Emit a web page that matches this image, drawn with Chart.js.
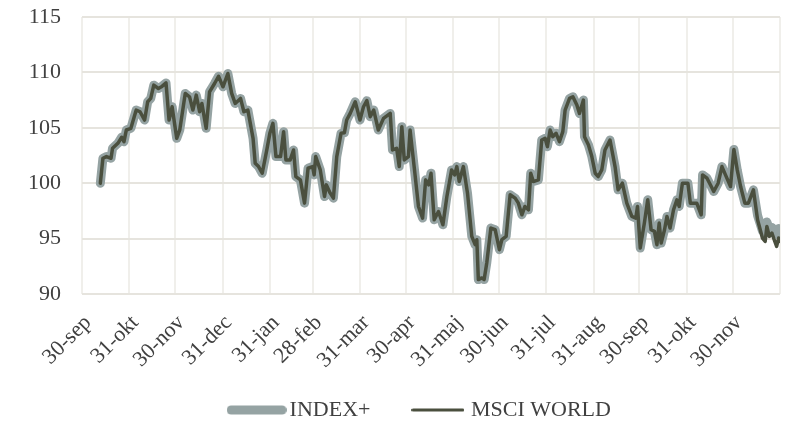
<!DOCTYPE html>
<html>
<head>
<meta charset="utf-8">
<script src="https://cdn.jsdelivr.net/npm/chart.js@4"></script>
<style>
  body { margin: 0; background: #fff; }
  #wrap { width: 790px; height: 422px; }
</style>
</head>
<body>
<div id="wrap"><canvas id="indexChart"></canvas></div>
<script>
// day offsets from 30-sep (x) and index values
const days = [12,13.7,16,19,20,23.5,26,27.5,29,32,35.5,38,41,43,45,47,50,52,55,57,59,62,64,67.6,70.4,72.6,74.8,77,78.5,81.3,83.5,86.8,89.4,92.3,95.5,98,100.3,103.8,106,108.6,112,113.4,115.6,118,121,123,125,127,130,132,133.5,136.3,138.5,140,143,145.7,148,151,152,153,156,158.8,160,162.5,164.6,166.8,169.6,171.8,173.3,175.6,178.9,182,184.3,186.5,188.7,191,194,197.4,201.8,203.3,206,207.7,209.4,211,213.7,214.8,217.7,220.3,223,225,227,228.5,230.6,233.4,236.3,238.9,242,244,245.4,247,249.7,252.4,255.2,257.4,258.5,259.5,261.8,263.3,265,267.7,270.5,273.3,274.9,277.7,280.3,283.6,285.7,288,290,292.3,293.8,295.5,298.8,301,303.2,304.7,306.5,308.2,310.4,312.6,314.8,316.3,319.2,321.4,324,325.7,328.3,329,331.6,333.8,336,338,340.3,342.4,345.7,349,351,353.8,356.7,360,362.6,363.7,365.5,368.2,370.4,372.6,374.8,376.4,377.9,379.2,381.4,383,385,387.3,389.5,391,393.1,396.7,398.3,402.5,405.4,406.3,409.2,412,413.6,416.5,419,421.3,424.6,426.8,429,431.2,434,436.3,439.6,442.3,445.5,447.3,448.4,450,451.7,453.2,454.8,456.1,457];

const msciWorld = [100.0,102.25,102.4,102.25,103.15,103.6,104.15,103.75,104.8,104.95,106.6,106.45,105.7,107.35,107.65,108.85,108.55,108.7,109.05,105.7,106.9,104.05,104.8,108.1,107.8,106.6,107.95,106.45,107.2,104.95,108.25,109.0,109.65,108.7,109.9,108.1,107.2,107.65,106.45,106.6,104.05,101.8,101.5,100.9,103.0,104.5,105.4,102.4,102.4,104.65,102.1,102.1,103.0,100.6,100.3,98.2,101.35,101.5,100.75,102.4,101.2,98.8,99.85,99.1,98.65,102.4,104.5,104.55,105.7,106.3,107.35,105.7,106.9,107.45,106.0,106.6,104.8,105.85,106.3,103.0,103.15,101.5,105.1,102.1,102.4,104.8,101.2,97.9,96.85,100.3,99.85,100.9,96.7,97.45,96.25,98.8,101.2,100.75,101.5,100.15,101.5,99.1,95.2,94.45,94.9,91.3,91.45,91.3,92.8,95.95,95.8,94.0,94.9,95.2,98.95,98.65,98.2,97.15,97.9,97.6,100.9,100.15,100.3,103.9,104.05,103.3,104.8,104.2,104.5,103.75,104.65,106.6,107.65,107.8,107.05,106.3,107.5,104.2,103.45,102.4,100.9,100.6,101.2,103.0,103.9,101.5,99.4,100.0,98.2,97.0,96.85,97.9,94.15,96.4,98.5,95.8,95.65,94.45,96.4,94.6,95.8,97.0,95.95,97.6,98.5,97.9,100.0,100.0,98.2,98.2,97.15,100.75,100.45,99.7,99.25,100.0,101.5,100.75,99.7,103.05,101.2,99.7,98.2,98.2,99.4,96.7,95.05,94.75,96.1,95.2,95.5,94.9,94.3,95.05,94.75];

const indexPlus = [100.0,102.25,102.4,102.25,103.15,103.6,104.15,103.75,104.8,104.95,106.6,106.45,105.7,107.35,107.65,108.85,108.55,108.7,109.05,105.7,106.9,104.05,104.8,108.1,107.8,106.6,107.95,106.45,107.2,104.95,108.25,109.0,109.65,108.7,109.9,108.1,107.2,107.65,106.45,106.6,104.05,101.8,101.5,100.9,103.0,104.5,105.4,102.4,102.4,104.65,102.1,102.1,103.0,100.6,100.3,98.2,101.35,101.5,100.75,102.4,101.2,98.8,99.85,99.1,98.65,102.4,104.5,104.55,105.7,106.3,107.35,105.7,106.9,107.45,106.0,106.6,104.8,105.85,106.3,103.0,103.15,101.5,105.1,102.1,102.4,104.8,101.2,97.9,96.85,100.3,99.85,100.9,96.7,97.45,96.25,98.8,101.2,100.75,101.5,100.15,101.5,99.1,95.2,94.45,94.9,91.3,91.45,91.3,92.8,95.95,95.8,94.0,94.9,95.2,98.95,98.65,98.2,97.15,97.9,97.6,100.9,100.15,100.3,103.9,104.05,103.3,104.8,104.2,104.5,103.75,104.65,106.6,107.65,107.8,107.05,106.3,107.5,104.2,103.45,102.4,100.9,100.6,101.2,103.0,103.9,101.5,99.4,100.0,98.2,97.0,96.85,97.9,94.15,96.4,98.5,95.8,95.65,94.45,96.4,94.6,95.8,97.0,95.95,97.6,98.5,97.9,100.0,100.0,98.2,98.2,97.15,100.75,100.45,99.7,99.25,100.0,101.5,100.75,99.7,103.05,101.2,99.7,98.2,98.2,99.4,97.1,95.7,95.5,96.5,95.9,96.0,95.8,95.4,95.9,95.6];

// month ends (gridlines) and their labels
const monthTicks = [0,31,61,92,123,151,182,212,243,273,304,335,365,396,426,457];
const monthLabels = ['30-sep','31-okt','30-nov','31-dec','31-jan','28-feb','31-mar','30-apr','31-maj','30-jun','31-jul','31-aug','30-sep','31-okt','30-nov',''];

const yTicks = [90, 95, 100, 105, 110, 115];

const FONT = "'Liberation Serif', 'DejaVu Serif', serif";
const TEXT = '#404040';
const GREY = '#95a3a3';
const DARK = '#4a4f3e';

// legend swatches: thick grey bar, thin dark line
function swatch(w, h, lw, color) {
    const c = document.createElement('canvas');
    c.width = w;
    c.height = h;
    const g = c.getContext('2d');
    g.strokeStyle = color;
    g.lineWidth = lw;
    g.lineCap = 'round';
    g.beginPath();
    g.moveTo(lw / 2, h / 2);
    g.lineTo(w - lw / 2, h / 2);
    g.stroke();
    return c;
}
const swatches = [swatch(60, 12, 9, GREY), swatch(53, 12, 3, DARK)];
// trailing spaces only widen the legend items a bit (spacing like the original)
const legendPad = '   ';

const toPoints = vals => days.map((d, i) => ({ x: d, y: vals[i] }));

const ctx = document.getElementById('indexChart').getContext('2d');
new Chart(ctx, {
    type: 'line',
    data: {
        datasets: [{
            label: 'INDEX+',
            data: toPoints(indexPlus),
            borderColor: GREY,
            borderWidth: 9,
            order: 2
        }, {
            label: 'MSCI WORLD',
            data: toPoints(msciWorld),
            borderColor: DARK,
            borderWidth: 3.5,
            order: 1
        }]
    },
    options: {
        responsive: true,
        maintainAspectRatio: false,
        animation: false,
        layout: { padding: { left: 0, right: 10, top: 17, bottom: -9 } },
        elements: {
            point: { radius: 0 },
            line: { tension: 0, borderJoinStyle: 'round', borderCapStyle: 'round', fill: false }
        },
        scales: {
            x: {
                type: 'linear',
                min: 0,
                max: 457,
                afterBuildTicks: axis => { axis.ticks = monthTicks.map(v => ({ value: v })); },
                afterFit: axis => {
                    axis.height = 76;
                    // rotated labels hang left only, no extra room needed at the right
                    axis.paddingRight = 0;
                    axis.paddingLeft = 0;
                },
                grid: { color: '#f0efeb', lineWidth: 2, drawTicks: false },
                border: { display: false },
                ticks: {
                    autoSkip: false,
                    minRotation: 45,
                    maxRotation: 45,
                    padding: 16,
                    labelOffset: 6,
                    color: TEXT,
                    font: { family: FONT, size: 22 },
                    callback: (value, index) => monthLabels[index]
                }
            },
            y: {
                min: 90,
                max: 115,
                afterBuildTicks: axis => { axis.ticks = yTicks.map(v => ({ value: v })); },
                afterFit: axis => { axis.width = 82; },
                grid: { color: '#e6e4de', lineWidth: 2, drawTicks: true, tickLength: 21, tickColor: 'rgba(0,0,0,0)' },
                border: { display: false },
                ticks: {
                    padding: 0,
                    color: TEXT,
                    font: { family: FONT, size: 22 }
                }
            }
        },
        plugins: {
            tooltip: { enabled: false },
            legend: {
                position: 'bottom',
                fullSize: false,
                labels: {
                    usePointStyle: true,
                    pointStyleWidth: 44,
                    padding: 29,
                    color: TEXT,
                    font: { family: FONT, size: 22 },
                    generateLabels: chart => chart.data.datasets.map((ds, i) => ({
                        text: ds.label + legendPad,
                        datasetIndex: i,
                        pointStyle: swatches[i],
                        fontColor: TEXT,
                        lineWidth: 0,
                        strokeStyle: 'transparent',
                        fillStyle: 'transparent',
                        hidden: false
                    }))
                }
            }
        }
    }
});
</script>
</body>
</html>
